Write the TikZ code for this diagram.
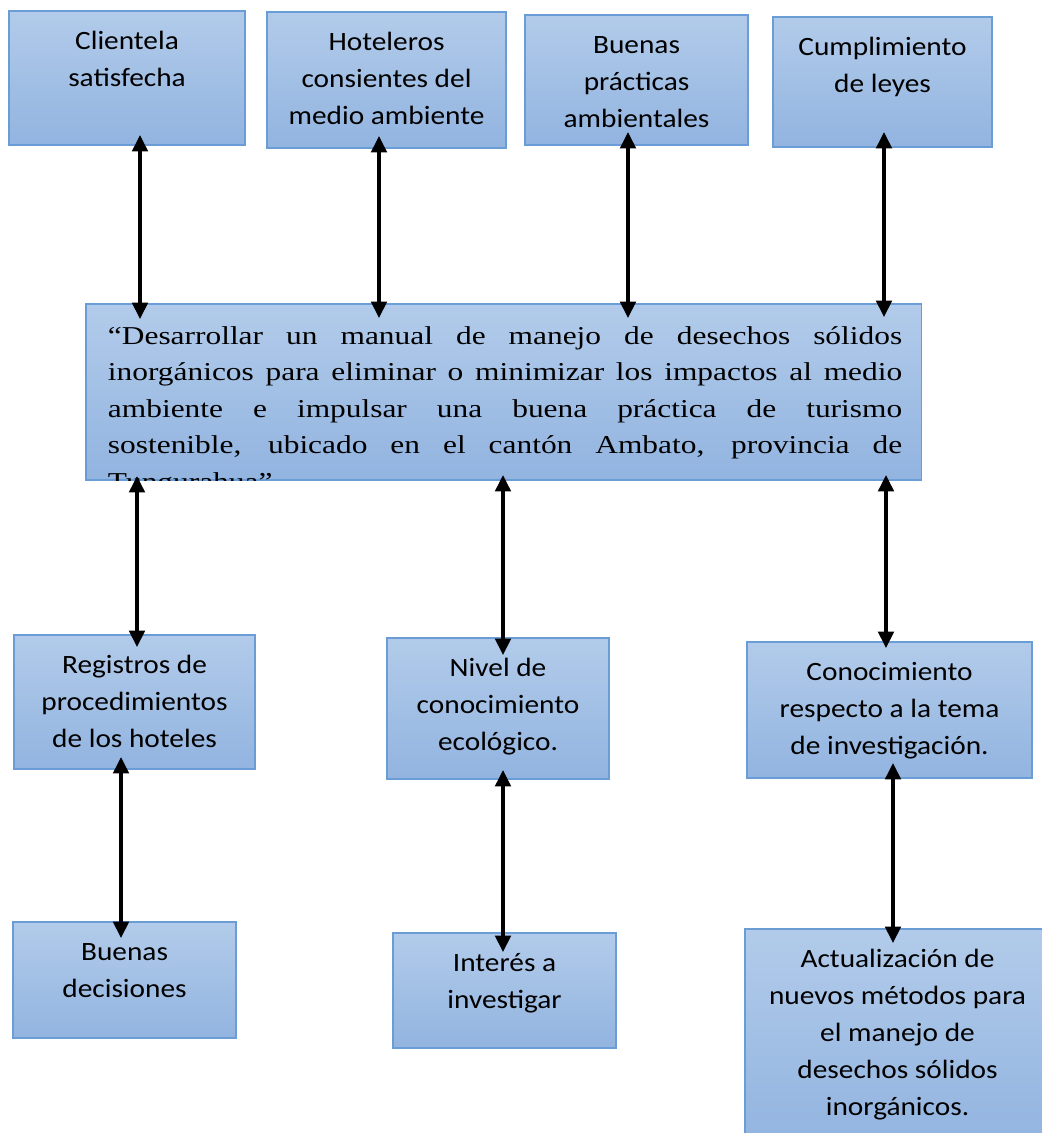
\documentclass[tikz,border=0pt]{standalone}
\usepackage{fontspec}
\setmainfont{Carlito}[FakeStretch=1.11]
\newfontfamily\romana{Liberation Serif}[FakeStretch=1.22]
\usepackage{tikz}
\usetikzlibrary{arrows.meta}
\definecolor{cajaarriba}{RGB}{178,203,234}
\definecolor{cajaabajo}{RGB}{146,180,224}
\definecolor{bordecaja}{RGB}{106,157,214}
\newcommand{\textocaja}[3]{\parbox[t][#2][t]{#1}{\centering\rule{0pt}{0.9625cm}#3}}
\newcommand{\linea}[1]{\hbox to \linewidth{#1}}
\tikzset{
    caja/.style={draw=bordecaja, line width=0.9pt, top color=cajaarriba, bottom color=cajaabajo,
        inner sep=0pt, outer sep=0pt, anchor=north west, font=\fontsize{18.8pt}{26.3pt}\selectfont},
    flecha/.style={{Triangle[length=0.41cm,width=0.39cm]}-{Triangle[length=0.41cm,width=0.39cm]}, line width=2.3pt}
}

\begin{document}
\begin{tikzpicture}[x=0.025cm, y=-0.025cm]
        \fill[white] (0,0) rectangle (1041,1133);
        \useasboundingbox (0,0) rectangle (1041,1133);

        % fila superior
        \node[caja] (clientela) at (9,11) {\textocaja{5.9cm}{3.35cm}{Clientela\\satisfecha}};
        \node[caja] (hoteleros) at (267,12) {\textocaja{5.975cm}{3.4cm}{Hoteleros\\consientes del\\medio ambiente}};
        \node[caja] (practicas) at (525,15) {\textocaja{5.575cm}{3.25cm}{Buenas\\prácticas\\ambientales}};
        \node[caja] (leyes) at (773,17) {\textocaja{5.475cm}{3.25cm}{Cumplimiento\\de leyes}};

        % objetivo
        \node[caja, minimum width=20.875cm, minimum height=4.4cm] (objetivo) at (86,304) {};
        \begin{scope}
            \clip (objetivo.south west) rectangle (objetivo.north east);
            \node[anchor=base west, inner sep=0pt, font=\romana\fontsize{18.3pt}{25.96pt}\selectfont] (objetivotxt) at (107.7,344.3)
                {\parbox[t]{19.85cm}{%
                \linea{“Desarrollar un manual de manejo de desechos sólidos}
                \linea{inorgánicos para eliminar o minimizar los impactos al medio}
                \linea{ambiente e impulsar una buena práctica de turismo}
                \linea{sostenible, ubicado en el cantón Ambato, provincia de}
                \hbox{Tungurahua”}}};
        \end{scope}

        % fila media
        \node[caja] (registros) at (14,635) {\textocaja{6.025cm}{3.35cm}{Registros de\\procedimientos\\de los hoteles}};
        \node[caja] (nivel) at (387,638) {\textocaja{5.55cm}{3.525cm}{Nivel de\\conocimiento\\ecológico.}};
        \node[caja] (conocimiento) at (747,642) {\textocaja{7.125cm}{3.4cm}{Conocimiento\\respecto a la tema\\de investigación.}};

        % fila inferior
        \node[caja] (decisiones) at (13,922) {\textocaja{5.575cm}{2.9cm}{Buenas\\decisiones}};
        \node[caja] (interes) at (393,933) {\textocaja{5.575cm}{2.875cm}{Interés a\\investigar}};
        \node[caja] (actualizacion) at (745,929) {\textocaja{7.625cm}{5.375cm}{Actualización de\\nuevos métodos para\\el manejo de\\desechos sólidos\\inorgánicos.}};

        % flechas
        \draw[flecha] ([shift={(131,-10)}]clientela.south west) -- ([shift={(54,15)}]objetivo.north west);
        \draw[flecha] ([shift={(112,-12)}]hoteleros.south west) -- ([shift={(293,14)}]objetivo.north west);
        \draw[flecha] ([shift={(103,-13)}]practicas.south west) -- ([shift={(542,14)}]objetivo.north west);
        \draw[flecha] ([shift={(111,-15)}]leyes.south west) -- ([shift={(798,13)}]objetivo.north west);

        \draw[flecha] ([shift={(51,-4)}]objetivo.south west) -- ([shift={(123,12)}]registros.north west);
        \draw[flecha] ([shift={(417,-5)}]objetivo.south west) -- ([shift={(116,17)}]nivel.north west);
        \draw[flecha] ([shift={(800,-5)}]objetivo.south west) -- ([shift={(139,6)}]conocimiento.north west);

        \draw[flecha] ([shift={(107,-12)}]registros.south west) -- ([shift={(108,16)}]decisiones.north west);
        \draw[flecha] ([shift={(116,-9)}]nivel.south west) -- ([shift={(110,19)}]interes.north west);
        \draw[flecha] ([shift={(146,-15)}]conocimiento.south west) -- ([shift={(148,14)}]actualizacion.north west);
    \end{tikzpicture}
\end{document}
